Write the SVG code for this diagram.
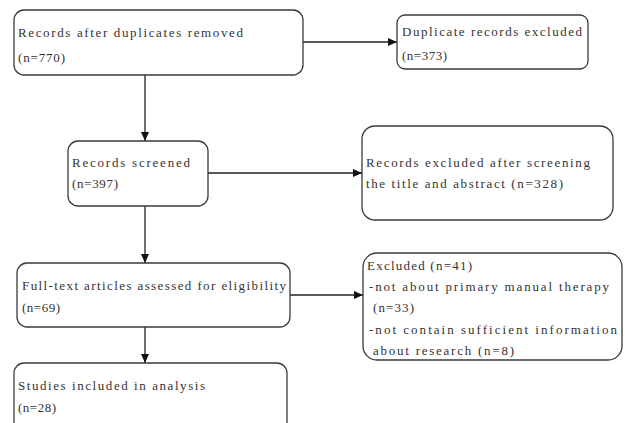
<svg xmlns="http://www.w3.org/2000/svg" width="625" height="423" viewBox="0 0 625 423">
<style>
.box{fill:#fff;stroke:#3a3a3a;stroke-width:1.3}
.t{font-family:"Liberation Serif","DejaVu Serif",serif;font-size:13px;fill:#333}
.c{fill:none;stroke:#222;stroke-width:1.3}
</style>
<defs>
<marker id="ah" markerUnits="userSpaceOnUse" markerWidth="9" markerHeight="8" refX="9" refY="4" orient="auto">
<path d="M0,0 L9,4 L0,8 z" fill="#111"/>
</marker>
</defs>
<rect width="625" height="423" fill="#fff"/>
<g id="connectors">
<line class="c" x1="303" y1="42" x2="397" y2="42" marker-end="url(#ah)"/>
<line class="c" x1="145" y1="75" x2="145" y2="141" marker-end="url(#ah)"/>
<line class="c" x1="208" y1="173" x2="362" y2="173" marker-end="url(#ah)"/>
<line class="c" x1="145" y1="206" x2="145" y2="263" marker-end="url(#ah)"/>
<line class="c" x1="290" y1="295" x2="363" y2="295" marker-end="url(#ah)"/>
<line class="c" x1="145" y1="327" x2="145" y2="363" marker-end="url(#ah)"/>
</g>
<g id="n1">
<rect class="box" x="14" y="10" width="289" height="65" rx="10"/>
<text class="t" x="18" y="37" textLength="225" lengthAdjust="spacing">Records after duplicates removed</text>
<text class="t" x="18" y="62" textLength="47" lengthAdjust="spacing">(n=770)</text>
</g>
<g id="n2">
<rect class="box" x="397" y="15" width="191" height="54" rx="8"/>
<text class="t" x="402" y="36" textLength="180" lengthAdjust="spacing">Duplicate records excluded</text>
<text class="t" x="402" y="60" textLength="45" lengthAdjust="spacing">(n=373)</text>
</g>
<g id="n3">
<rect class="box" x="68" y="141" width="140" height="65" rx="10"/>
<text class="t" x="72" y="167" textLength="118" lengthAdjust="spacing">Records screened</text>
<text class="t" x="72" y="188" textLength="46" lengthAdjust="spacing">(n=397)</text>
</g>
<g id="n4">
<rect class="box" x="362" y="126" width="251" height="94" rx="13"/>
<text class="t" x="366" y="167" textLength="224" lengthAdjust="spacing">Records excluded after screening</text>
<text class="t" x="366" y="188" textLength="197" lengthAdjust="spacing">the title and abstract (n=328)</text>
</g>
<g id="n5">
<rect class="box" x="17" y="263" width="273" height="64" rx="10"/>
<text class="t" x="22" y="290" textLength="264" lengthAdjust="spacing">Full-text articles assessed for eligibility</text>
<text class="t" x="22" y="312" textLength="38" lengthAdjust="spacing">(n=69)</text>
</g>
<g id="n6">
<rect class="box" x="363" y="253" width="259" height="107" rx="14"/>
<text class="t" x="367" y="270" textLength="105" lengthAdjust="spacing">Excluded (n=41)</text>
<text class="t" x="369" y="291" textLength="240" lengthAdjust="spacing">-not about primary manual therapy</text>
<text class="t" x="373" y="312" textLength="41" lengthAdjust="spacing">(n=33)</text>
<text class="t" x="369" y="334" textLength="248" lengthAdjust="spacing">-not contain sufficient information</text>
<text class="t" x="373" y="355" textLength="141" lengthAdjust="spacing">about research (n=8)</text>
</g>
<g id="n7">
<rect class="box" x="14" y="363" width="273" height="80" rx="10"/>
<text class="t" x="18" y="390" textLength="187" lengthAdjust="spacing">Studies included in analysis</text>
<text class="t" x="18" y="412" textLength="38" lengthAdjust="spacing">(n=28)</text>
</g>
</svg>
